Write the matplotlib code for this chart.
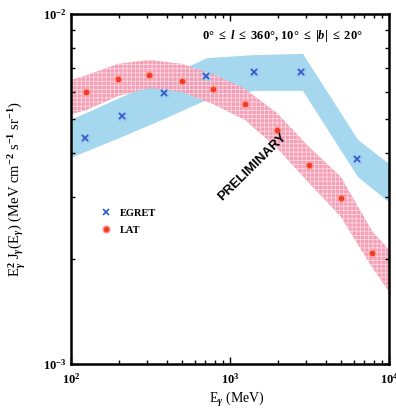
import numpy as np
import matplotlib.pyplot as plt
import matplotlib.ticker as mticker

# EGRET points
egret_e = [122, 210, 386, 706, 1409, 2800, 6320]
egret_f = [4.43e-3, 5.12e-3, 5.96e-3, 6.65e-3, 6.81e-3, 6.81e-3, 3.85e-3]

# LAT points
lat_e = [125, 198, 311, 496, 785, 1242, 1967, 3127, 4966, 7850]
lat_f = [5.98e-3, 6.51e-3, 6.71e-3, 6.44e-3, 6.09e-3, 5.52e-3, 4.65e-3,
         3.70e-3, 2.99e-3, 2.07e-3]

# EGRET band (energy, upper, lower)
egret_band_e = [100, 209, 385, 717, 1415, 2878, 6383, 10000]
egret_band_hi = [4.98e-3, 5.79e-3, 6.57e-3, 7.48e-3, 7.63e-3, 7.69e-3, 4.37e-3, 3.73e-3]
egret_band_lo = [3.88e-3, 4.45e-3, 5.01e-3, 5.68e-3, 6.03e-3, 6.03e-3, 3.42e-3, 2.90e-3]

# LAT band (energy, upper, lower)
lat_band_e = [100, 126, 198, 310, 499, 782, 1243, 1975, 3140, 4991, 7818, 10000]
lat_band_hi = [6.48e-3, 6.69e-3, 7.20e-3, 7.39e-3, 7.20e-3, 6.74e-3, 6.11e-3, 5.21e-3,
               4.17e-3, 3.42e-3, 2.40e-3, 2.12e-3]
lat_band_lo = [5.18e-3, 5.32e-3, 5.83e-3, 6.14e-3, 5.99e-3, 5.53e-3, 4.98e-3, 4.14e-3,
               3.29e-3, 2.63e-3, 1.89e-3, 1.61e-3]

plt.rcParams['font.family'] = 'Liberation Serif'
plt.rcParams['font.weight'] = 'bold'
plt.rcParams['mathtext.fontset'] = 'custom'
plt.rcParams['mathtext.rm'] = 'Liberation Serif:bold'
plt.rcParams['mathtext.it'] = 'Liberation Serif:italic:bold'
plt.rcParams['mathtext.bf'] = 'Liberation Serif:bold'
plt.rcParams['hatch.linewidth'] = 0.6

fig = plt.figure(figsize=(3.96, 4.12), dpi=100)
ax = fig.add_axes([71 / 396, 1 - 364 / 412, 318 / 396, 350 / 412])

ax.fill_between(egret_band_e, egret_band_lo, egret_band_hi, facecolor='#a5d7ef',
                edgecolor='none', linewidth=0)
ax.fill_between(lat_band_e, lat_band_lo, lat_band_hi, facecolor='#f49ab2',
                edgecolor='#fbdbe3', hatch='++++', linewidth=0, alpha=0.95)

ax.plot(egret_e, egret_f, 'x', color='#9cc3f0', ms=6, mew=2.4)
ax.plot(egret_e, egret_f, 'x', color='#2b5cc8', ms=5, mew=1.2, label='EGRET')
ax.plot(lat_e, lat_f, 'o', color='#f23a26', mec='#f8a09a', ms=5, mew=1.0, label='LAT')

ax.set_xscale('log')
ax.set_yscale('log')
ax.set_xlim(100, 10000)
ax.set_ylim(1e-3, 1e-2)

ax.yaxis.set_major_locator(mticker.FixedLocator([1e-3, 1e-2]))
ax.yaxis.set_minor_locator(mticker.LogLocator(base=10, subs=np.arange(2, 10)))
ax.yaxis.set_minor_formatter(mticker.NullFormatter())
ax.xaxis.set_minor_formatter(mticker.NullFormatter())
ax.tick_params(which='both', direction='in', top=True, right=True, labelsize=9,
               width=1.0)
ax.tick_params(which='major', length=5)
ax.tick_params(which='minor', length=3)
ax.tick_params(axis='x', pad=6)
ax.tick_params(axis='y', pad=3)
for sp in ax.spines.values():
    sp.set_linewidth(1.8)

ax.set_xlabel(r'E$_\gamma$ (MeV)', fontsize=10)
ax.xaxis.set_label_coords(0.522, -0.075)
ax.set_ylabel(r'E$_\gamma^2$ J$_\gamma$(E$_\gamma$) (MeV cm$^{-2}$ s$^{-1}$ sr$^{-1}$)',
              fontsize=10.5)
ax.yaxis.set_label_coords(-0.135, 0.5)

ax.text(0.918, 0.937, r'0$\degree$ $\leq$ $l$ $\leq$ 360$\degree$, 10$\degree$ $\leq$ |$b$| $\leq$ 20$\degree$',
        transform=ax.transAxes, ha='right', va='center', fontsize=9)

ax.text(1374, 3.65e-3, 'PRELIMINARY', rotation=44.5, ha='center', va='center',
        fontsize=9.5, fontweight='bold', family='Liberation Sans')

ax.legend(loc='center left', bbox_to_anchor=(0.095, 0.407), frameon=False,
          fontsize=7.5, handletextpad=0.8, labelspacing=0.75, handlelength=1.0,
          borderpad=0, borderaxespad=0)

fig.savefig('out.png', dpi=100)
